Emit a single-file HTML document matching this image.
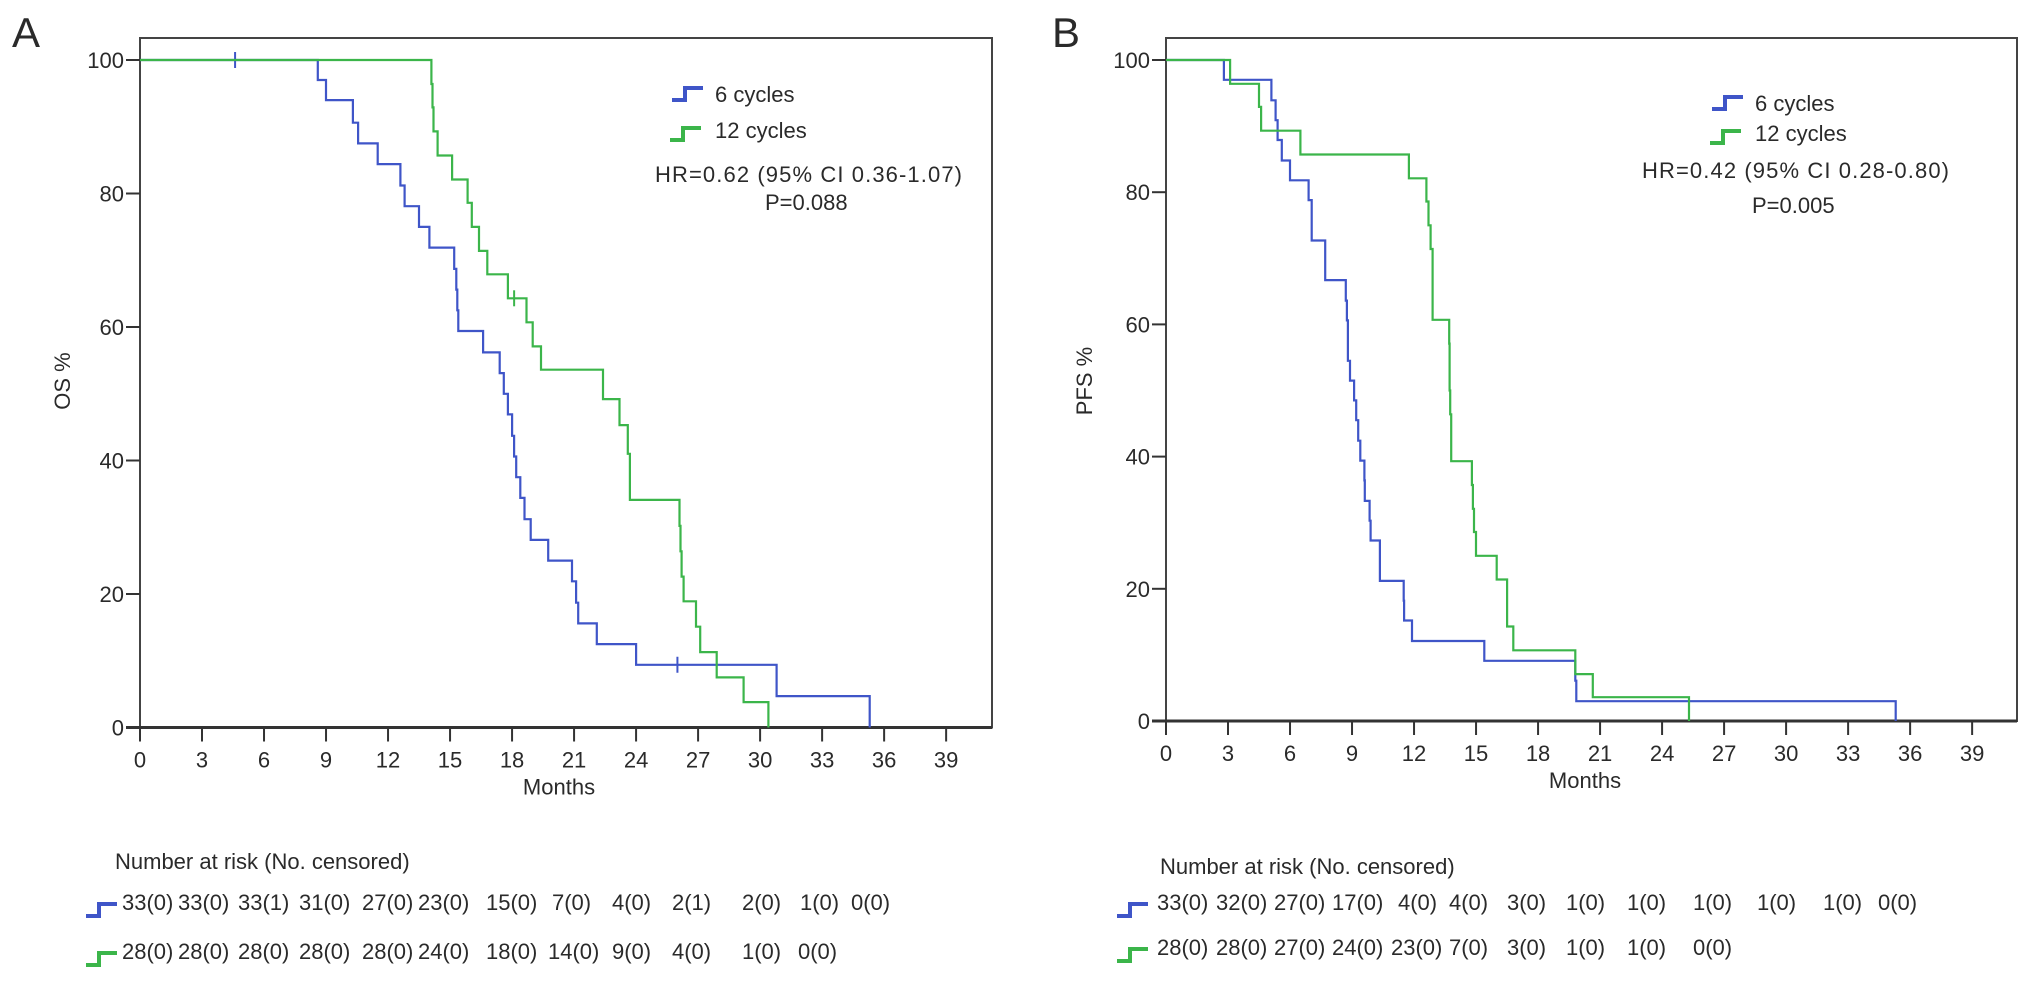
<!DOCTYPE html>
<html><head><meta charset="utf-8"><style>
html,body{margin:0;padding:0;background:#fff;}
svg{display:block;font-family:"Liberation Sans",Arial,sans-serif;}
</style></head><body>
<svg id="fig" width="2032" height="985" viewBox="0 0 2032 985" xmlns="http://www.w3.org/2000/svg"></svg>
<script>
// ---- data ----
const xTicks = [0,3,6,9,12,15,18,21,24,27,30,33,39];
const xTickLabels = [0,3,6,9,12,15,18,21,24,27,30,33,36,39];
const yTickLabels = [0,20,40,60,80,100];

const osBlueT = [8.6,9.0,10.3,10.55,11.5,12.6,12.8,13.5,14.0,15.2,15.3,15.35,15.4,16.6,17.4,17.6,17.8,18.0,18.1,18.2,18.4,18.6,18.9,19.75,20.9,21.1,21.2,22.1,24.0,30.8,35.3];
const osBlueV = [97,94,90.6,87.5,84.4,81.2,78.1,75,71.9,68.7,65.6,62.5,59.4,56.2,53.1,50,46.9,43.7,40.6,37.5,34.4,31.2,28.1,25,21.9,18.7,15.6,12.5,9.4,4.7,0];
const osBlueCensT = [4.6,26.0];
const osBlueCensV = [100,9.4];
const osGreenT = [14.1,14.15,14.2,14.4,15.1,15.85,16.05,16.4,16.8,17.8,18.7,19.0,19.4,22.4,23.2,23.6,23.7,26.1,26.15,26.2,26.3,26.9,27.1,27.9,29.2,30.4];
const osGreenV = [96.4,92.9,89.3,85.7,82.1,78.6,75,71.4,67.9,64.3,60.7,57.1,53.6,49.2,45.3,41,34.1,30.2,26.4,22.6,18.9,15.1,11.3,7.5,3.8,0];
const osGreenCensT = [18.1];
const osGreenCensV = [64.3];

const pfsBlueT = [2.8,5.1,5.3,5.4,5.6,6.0,6.9,7.05,7.7,8.7,8.75,8.8,8.9,9.1,9.2,9.3,9.4,9.6,9.62,9.85,9.9,10.35,11.5,11.52,11.9,15.4,19.8,19.85,35.3];
const pfsBlueV = [97,93.9,90.9,87.9,84.8,81.8,78.8,72.7,66.7,63.6,60.6,54.5,51.5,48.5,45.5,42.4,39.4,36.4,33.3,30.3,27.3,21.2,18.2,15.2,12.1,9.1,6.1,3,0];
const pfsGreenT = [3.1,4.5,4.6,6.5,11.75,12.6,12.7,12.8,12.9,13.7,13.72,13.75,13.8,14.8,14.85,14.9,15.0,16.0,16.5,16.8,19.8,20.65,25.3];
const pfsGreenV = [96.4,92.9,89.3,85.7,82.1,78.6,75,71.4,60.7,57.1,50,46.4,39.3,35.7,32.1,28.6,25,21.4,14.3,10.7,7.1,3.6,0];

const riskOs6 = ["33(0)","33(0)","33(1)","31(0)","27(0)","23(0)","15(0)","7(0)","4(0)","2(1)","2(0)","1(0)","0(0)"];
const riskOs12 = ["28(0)","28(0)","28(0)","28(0)","28(0)","24(0)","18(0)","14(0)","9(0)","4(0)","1(0)","0(0)"];
const riskPfs6 = ["33(0)","32(0)","27(0)","17(0)","4(0)","4(0)","3(0)","1(0)","1(0)","1(0)","1(0)","1(0)","0(0)"];
const riskPfs12 = ["28(0)","28(0)","27(0)","24(0)","23(0)","7(0)","3(0)","1(0)","1(0)","0(0)"];

// ---- drawing ----
const NS = "http://www.w3.org/2000/svg";
const svg = document.getElementById('fig');
const BLUE = "#3f55c8", GREEN = "#3bb54a", INK = "#2a2a2a";
function mk(tag, attrs, parent){
  const e = document.createElementNS(NS, tag);
  for (const k in attrs) e.setAttribute(k, attrs[k]);
  (parent||svg).appendChild(e);
  return e;
}
function txt(s, x, y, size, anchor, parent){
  const t = mk('text', {x:x, y:y, 'font-size':size, 'text-anchor':anchor||'start', fill:INK}, parent);
  t.textContent = s;
  return t;
}
function legendIcon(x, y, color, parent){
  const p = mk('path', {d:`M${x},${y} h13 v-12 h18`, fill:'none', stroke:color, 'stroke-width':4}, parent);
  return p;
}

function panel(cfg){
  const g = mk('g', {});
  
  
  const X = t => cfg.x0 + t * cfg.pxPerMonth;
  const Y = v => cfg.y0 - v * cfg.pxPerPct;

  // panel letter
  const L = txt(cfg.letter, cfg.letterX, 47, 42, 'start', g);
  
  

  // frame
  const fr = mk('rect', {x:cfg.x0, y:38, width:cfg.xRight-cfg.x0, height:cfg.y0-38, fill:'none', stroke:'#444', 'stroke-width':2}, g);
  
  
  const ax = mk('line', {x1:cfg.x0-14, x2:cfg.xRight, y1:cfg.y0, y2:cfg.y0, stroke:'#333', 'stroke-width':3}, g);
  
  

  // y ticks
  yTickLabels.forEach(v => {
    const tk = mk('line', {x1:cfg.x0-14, x2:cfg.x0, y1:Y(v), y2:Y(v), stroke:'#333', 'stroke-width':2}, g);
    
    
    const lb = txt(String(v), cfg.x0-16, Y(v)+8, 22, 'end', g);
    
    
  });
  // x ticks
  xTickLabels.forEach(t => {
    const tk = mk('line', {x1:X(t), x2:X(t), y1:cfg.y0, y2:cfg.y0+14, stroke:'#333', 'stroke-width':2}, g);
    
    
    const lb = txt(String(t), X(t), cfg.y0+40, 22, 'middle', g);
    
    
  });
  const xt = txt('Months', cfg.monthsX, cfg.y0+67, 22, 'middle', g);
  
  
  const yt = txt(cfg.yTitle, 0, 0, 22, 'middle', g);
  yt.setAttribute('transform', `translate(${cfg.yTitleX},381) rotate(-90)`);
  
  

  // curves
  cfg.series.forEach(s => {
    let d = `M${X(0)},${Y(100)}`;
    s.t.forEach((t, i) => { d += ` H${X(t).toFixed(1)} V${Y(s.v[i]).toFixed(1)}`; });
    const p = mk('path', {d:d, fill:'none', stroke:s.color, 'stroke-width':2.2}, g);
    
    
    (s.ct||[]).forEach((t, i) => {
      const c = mk('line', {x1:X(t), x2:X(t), y1:Y(s.cv[i])-8, y2:Y(s.cv[i])+8, stroke:s.color, 'stroke-width':2}, g);
      
      
    });
  });

  // legend
  const lg = cfg.legend;
  const i1 = legendIcon(lg.iconX, lg.y1-2, BLUE, g);
  
  
  const t1 = txt('6 cycles', lg.iconX+43, lg.y1, 22, 'start', g);
  
  
  const i2 = legendIcon(lg.iconX-2, lg.y2+2, GREEN, g);
  
  
  const t2 = txt('12 cycles', lg.iconX+43, lg.y2, 22, 'start', g);
  
  
  const hr = txt(lg.hr, lg.hrX, lg.yHr, 22, 'start', g);
  hr.setAttribute('textLength', 307);
  
  
  const pv = txt(lg.p, lg.pX, lg.yP, 22, 'start', g);
  
  

  // risk table
  const rk = cfg.risk;
  const rh = txt('Number at risk (No. censored)', rk.headX, rk.headY, 22, 'start', g);
  
  
  const ri1 = legendIcon(rk.iconX, rk.row1Y+6, BLUE, g);
  
  
  const ri2 = legendIcon(rk.iconX, rk.row2Y+6, GREEN, g);
  
  
  rk.row1.forEach((s, i) => {
    const c = txt(s, rk.x1[i], rk.row1Y, 22, 'start', g);
    
    
  });
  rk.row2.forEach((s, i) => {
    const c = txt(s, rk.x2[i], rk.row2Y, 22, 'start', g);
    
    
  });
}

panel({
  name:'panel-a-os', letter:'A', letterX:12, x0:140, xRight:992, y0:727.5, pxPerMonth:20.67, pxPerPct:6.675,
  yTitle:'OS %', yTitleX:70, monthsX:559,
  series:[
    {name:'os-curve-6-cycles', t:osBlueT, v:osBlueV, ct:osBlueCensT, cv:osBlueCensV, color:BLUE},
    {name:'os-curve-12-cycles', t:osGreenT, v:osGreenV, ct:osGreenCensT, cv:osGreenCensV, color:GREEN}
  ],
  legend:{iconX:672, y1:102, y2:138, hr:'HR=0.62 (95% CI 0.36-1.07)', hrX:655, yHr:182, p:'P=0.088', pX:765, yP:210},
  risk:{headX:115, headY:869, iconX:86, row1Y:910, row2Y:959, row1:riskOs6, row2:riskOs12,
    x1:[122,178,238,299,362,418,486,552,612,672,742,800,851],
    x2:[122,178,238,299,362,418,486,548,612,672,742,798]}
});
panel({
  name:'panel-b-pfs', letter:'B', letterX:1052, x0:1166, xRight:2017, y0:721, pxPerMonth:20.67, pxPerPct:6.61,
  yTitle:'PFS %', yTitleX:1092, monthsX:1585,
  series:[
    {name:'pfs-curve-6-cycles', t:pfsBlueT, v:pfsBlueV, color:BLUE},
    {name:'pfs-curve-12-cycles', t:pfsGreenT, v:pfsGreenV, color:GREEN}
  ],
  legend:{iconX:1712, y1:111, y2:141, hr:'HR=0.42 (95% CI 0.28-0.80)', hrX:1642, yHr:178, p:'P=0.005', pX:1752, yP:213},
  risk:{headX:1160, headY:874, iconX:1117, row1Y:910, row2Y:955, row1:riskPfs6, row2:riskPfs12,
    x1:[1157,1216,1274,1332,1398,1449,1507,1566,1627,1693,1757,1823,1878],
    x2:[1157,1216,1274,1332,1391,1449,1507,1566,1627,1693]}
});
</script>
</body></html>
